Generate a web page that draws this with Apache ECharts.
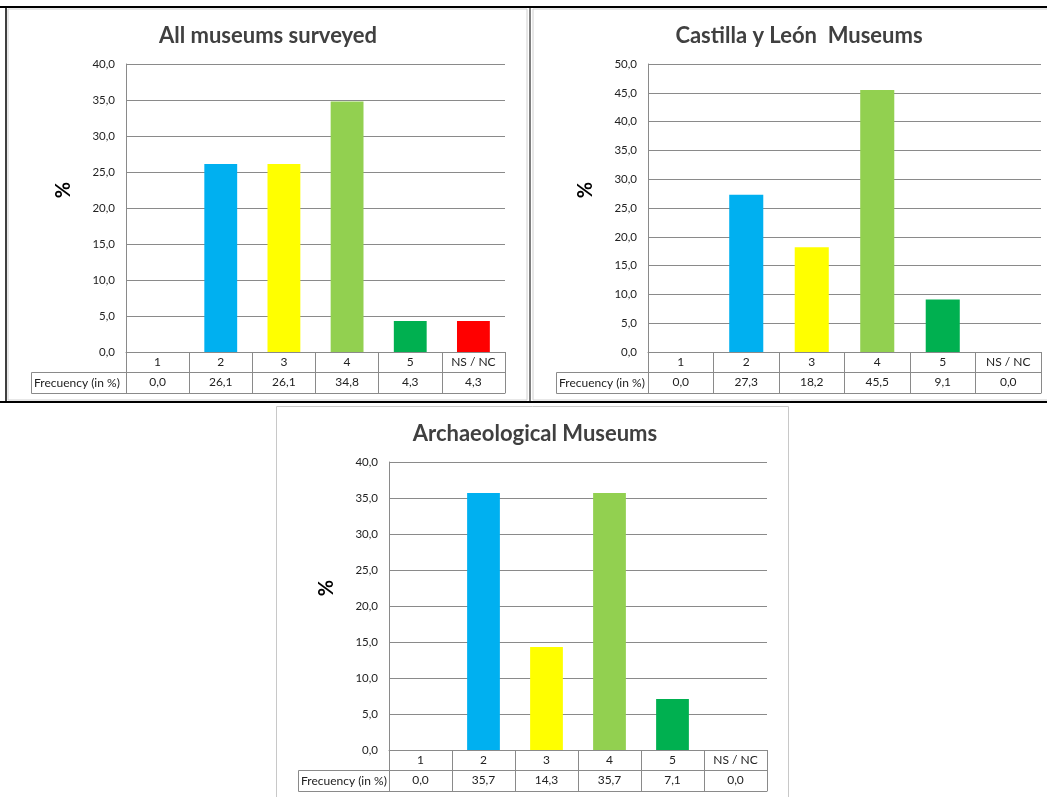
<!DOCTYPE html>
<html>
<head>
<meta charset="utf-8">
<script src="https://cdn.jsdelivr.net/npm/echarts@6/dist/echarts.min.js"></script>
<style>
  html, body { margin: 0; padding: 0; background: #fff; }
  #main { width: 1047px; height: 797px; }
</style>
</head>
<body>
<div id="main"></div>
<script>
// data
const categories = ['1', '2', '3', '4', '5', 'NS / NC']
const allMuseums = [0.0, 26.1, 26.1, 34.8, 4.3, 4.3]
const castillaLeon = [0.0, 27.3, 18.2, 45.5, 9.1, 0.0]
const archaeological = [0.0, 35.7, 14.3, 35.7, 7.1, 0.0]
const titles = ['All museums surveyed', 'Castilla y León  Museums', 'Archaeological Museums']
const yMaxes = [40, 50, 40]
const rowLabel = 'Frecuency (in %)'

// styles
const barColors = ['#7f7f7f', '#00b0f0', '#ffff00', '#92d050', '#00b050', '#ff0000']
const font = 'Lato, "Open Sans", sans-serif'
const lineGray = '#8a8a8a'
const textCol = '#222'

// panel layout: plot area + table
const panels = [
  { data: allMuseums, left: 126, top: 64, width: 379, height: 288, titleX: 263, titleY: 20, labelLeft: 31, row: 20 },
  { data: castillaLeon, left: 648, top: 64, width: 393, height: 288, titleX: 794, titleY: 20, labelLeft: 556, row: 20 },
  { data: archaeological, left: 389, top: 462, width: 378, height: 288, titleX: 530, titleY: 418, labelLeft: 298, row: 20 }
]

const fmt = v => v.toFixed(1).replace('.', ',')

const myChart = echarts.init(document.getElementById('main'))

const option = {
  backgroundColor: '#fff',
  animation: false,
  textStyle: { fontFamily: font },
  title: [],
  grid: [],
  xAxis: [],
  yAxis: [],
  series: [],
  graphic: []
}

// panel frames (spreadsheet screenshot borders)
option.graphic.push(
  { type: 'rect', shape: { x: 8, y: 9, width: 519, height: 391 }, style: { fill: 'none', stroke: '#d0d0d0', lineWidth: 1 } },
  { type: 'rect', shape: { x: 533, y: 9, width: 520, height: 391 }, style: { fill: 'none', stroke: '#d0d0d0', lineWidth: 1 } },
  { type: 'rect', shape: { x: 276.5, y: 406.5, width: 512, height: 400 }, style: { fill: 'none', stroke: '#c8c8c8', lineWidth: 1 } },
  { type: 'line', shape: { x1: 0, y1: 7, x2: 1047, y2: 7 }, style: { stroke: '#000', lineWidth: 2 } },
  { type: 'line', shape: { x1: 0, y1: 402, x2: 1047, y2: 402 }, style: { stroke: '#000', lineWidth: 2 } },
  { type: 'line', shape: { x1: 6, y1: 7, x2: 6, y2: 402 }, style: { stroke: '#000', lineWidth: 1.5 } },
  { type: 'line', shape: { x1: 530, y1: 7, x2: 530, y2: 402 }, style: { stroke: '#000', lineWidth: 1 } }
)

panels.forEach((p, i) => {
  option.title.push({
    text: titles[i],
    left: p.titleX,
    top: p.titleY,
    textAlign: 'center',
    textStyle: { fontFamily: font, fontSize: 22, fontWeight: 'bold', color: '#404040' }
  })
  option.grid.push({ left: p.left, top: p.top, width: p.width, height: p.height })

  // category row of the table
  option.xAxis.push({
    gridIndex: i,
    type: 'category',
    data: categories,
    axisLine: { lineStyle: { color: lineGray, width: 1 } },
    axisTick: { show: true, length: p.row, interval: 0, lineStyle: { color: lineGray } },
    axisLabel: { interval: 0, margin: 4, fontSize: 12, color: textCol, fontFamily: font }
  })
  // value row of the table
  option.xAxis.push({
    gridIndex: i,
    type: 'category',
    position: 'bottom',
    offset: p.row,
    data: p.data.map(fmt),
    axisLine: { lineStyle: { color: lineGray, width: 1 } },
    axisTick: { show: true, length: p.row + 1, interval: 0, lineStyle: { color: lineGray } },
    axisLabel: { interval: 0, margin: 4, fontSize: 12, color: textCol, fontFamily: font }
  })
  // bottom edge of the table
  option.xAxis.push({
    gridIndex: i,
    type: 'category',
    position: 'bottom',
    offset: p.row * 2 + 1,
    data: categories,
    axisLine: { lineStyle: { color: lineGray, width: 1 } },
    axisTick: { show: false },
    axisLabel: { show: false }
  })

  option.yAxis.push({
    gridIndex: i,
    type: 'value',
    min: 0,
    max: yMaxes[i],
    interval: 5,
    name: '%',
    nameLocation: 'middle',
    nameRotate: 90,
    nameGap: 52,
    nameTextStyle: { fontFamily: font, fontSize: 20, fontWeight: 'bold', color: '#000', padding: [0, 0, 0, 36] },
    axisLine: { show: true, lineStyle: { color: lineGray } },
    axisTick: { show: false },
    splitLine: { lineStyle: { color: lineGray, width: 1 } },
    axisLabel: { margin: 11, fontSize: 11.5, color: textCol, fontFamily: font, formatter: v => fmt(v) }
  })

  option.series.push({
    type: 'bar',
    xAxisIndex: i * 3,
    yAxisIndex: i,
    barWidth: '52%',
    data: p.data.map((v, k) => ({ value: v, itemStyle: { color: barColors[k] } }))
  })

  // "Frecuency (in %)" header cell on the left of the value row
  const cellW = p.left - p.labelLeft
  option.graphic.push({
    type: 'group',
    left: p.labelLeft,
    top: p.top + p.height + p.row,
    children: [
      { type: 'rect', shape: { x: 0.5, y: 0.5, width: cellW, height: p.row + 1 }, style: { fill: '#fff', stroke: lineGray, lineWidth: 1 } },
      { type: 'text', x: 3, y: (p.row + 1) / 2 + 0.5, style: { text: rowLabel, font: '12px ' + font, fill: textCol, verticalAlign: 'middle' } }
    ]
  })
})

myChart.setOption(option)
</script>
</body>
</html>
